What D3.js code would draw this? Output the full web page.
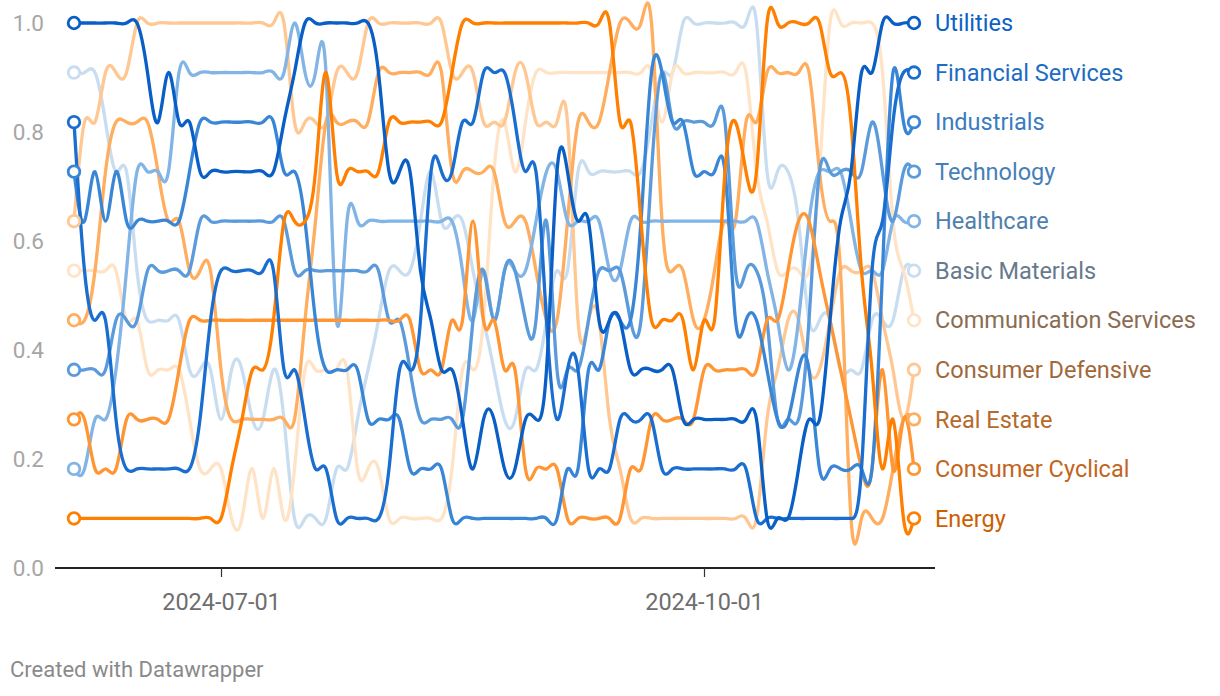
<!DOCTYPE html>
<html><head><meta charset="utf-8">
<script src="https://cdn.jsdelivr.net/npm/d3@7"></script>
<style>
body{margin:0;background:#fff;font-family:Roboto,"Noto Sans",sans-serif;}
</style></head>
<body><svg id="c" width="1220" height="696"></svg>
<script>
// ranks 1..11 (value = rank / 11), one value every 2 days from 2024-06-03
const startDate = "2024-06-03";
const stepDays = 2;
const seriesNames = ["Utilities","Financial Services","Industrials","Technology","Healthcare","Basic Materials","Communication Services","Consumer Defensive","Real Estate","Consumer Cyclical","Energy"];
const utilities = [11,11,11,11,11,11,11,10,9,10, 9,9,8,8,8,8,8,8,8,8, 9,10,11,11,11,11,11,11,11,10, 8,8,8,6,5,4,4,3,2,3, 3,2,2,3,3,4,8,8,7,7, 5,5,5,4,4,4,4,4,3,3, 3,3,3,3,3,3,1,1,1,2, 3,3,5,7,8,10,10,11,11,11, 11];
const financialServices = [9,6,5,5,3,2,2,2,2,2, 2,2,3,5,6,6,6,6,6,6, 4,4,3,2,2,1,1,1,1,1, 2,4,4,5,8,8,8,9,9,10, 10,10,9,8,8,5,3,4,4,2, 2,2,3,3,3,3,2,2,2,2, 2,2,2,2,2,1,1,1,1,1, 1,1,1,1,1,2,6,7,9,10, 10];
const industrials = [8,7,8,7,8,7,7,7,7,7, 7,8,9,9,9,9,9,9,9,9, 8,8,7,5,4,4,4,4,3,3, 3,3,2,2,2,2,1,1,1,1, 1,1,1,1,1,1,1,2,2,4, 4,5,5,5,7,10,10,9,9,8, 8,8,8,5,5,5,4,3,3,4, 4,2,2,2,2,2,2,6,10,9, 9];
const technology = [4,4,4,4,5,5,5,6,6,6, 6,6,7,7,7,7,7,7,7,7, 7,6,6,6,6,6,6,6,6,6, 5,5,4,3,3,3,3,3,5,6, 5,6,6,5,5,7,4,4,4,5, 6,6,6,5,5,8,10,9,9,9, 9,9,9,6,6,6,5,3,3,3, 5,8,8,8,8,8,9,8,7,8, 8];
const healthcare = [2,2,3,3,4,6,8,8,8,8, 10,10,10,10,10,10,10,10,10,10, 10,11,10,10,10,5,7,7,7,7, 7,7,7,7,7,7,7,6,5,6, 5,6,6,6,7,8,8,7,7,7, 7,6,6,7,7,7,7,7,7,7, 7,7,7,7,7,7,6,5,4,5, 7,8,8,8,7,6,6,6,7,7, 7];
const basicMaterials = [10,10,10,9,8,8,6,5,5,5, 5,4,4,4,3,4,4,3,3,4, 3,1,1,1,1,2,2,3,4,5, 6,6,6,7,8,7,7,7,6,5, 4,3,3,4,4,5,6,6,8,8, 8,8,8,8,8,9,10,10,11,11, 11,11,11,11,11,11,8,8,8,7, 5,5,5,4,4,4,5,5,5,6, 6];
const communicationServices = [6,6,6,6,6,5,5,4,4,4, 4,3,2,2,2,1,1,2,1,2, 1,2,4,4,4,4,4,2,2,2, 1,1,1,1,1,1,2,4,4,5, 8,9,8,9,10,10,10,10,10,10, 10,10,10,10,10,10,9,10,10,10, 10,10,10,10,10,8,7,6,6,6, 6,8,11,11,11,11,11,10,7,6, 5];
const consumerDefensive = [7,9,9,10,10,10,11,11,11,11, 11,11,11,11,11,11,11,11,11,11, 11,9,9,9,9,10,10,10,11,11, 11,11,11,11,11,11,10,10,10,9, 9,9,10,10,9,9,9,9,5,5, 5,3,2,1,1,1,1,1,1,1, 1,1,1,1,1,1,3,4,5,5, 4,4,5,6,6,6,6,5,4,3, 4];
const realEstate = [5,5,6,8,9,9,9,9,8,7, 7,6,6,6,4,3,3,3,3,3, 3,3,5,7,9,9,9,9,9,10, 10,10,10,10,10,10,8,8,8,8, 8,7,7,7,6,5,5,7,9,9, 9,10,11,11,11,11,7,6,6,5, 5,6,7,7,9,9,10,10,10,10, 10,8,7,6,1,1,1,1,2,3, 3];
const consumerCyclical = [3,3,2,2,2,3,3,3,3,3, 4,5,5,5,5,5,5,5,5,5, 5,5,5,5,5,5,5,5,5,5, 5,5,5,4,4,4,5,5,7,5, 5,4,4,2,2,2,2,1,1,1, 1,1,1,2,2,3,3,3,3,3, 4,4,4,4,4,4,5,5,6,7, 7,6,5,4,3,2,2,4,2,3, 2];
const energy = [1,1,1,1,1,1,1,1,1,1, 1,1,1,1,1,2,3,4,4,5, 7,7,7,8,10,8,8,8,8,8, 9,9,9,9,9,9,10,11,11,11, 11,11,11,11,11,11,11,11,11,11, 11,11,9,9,7,5,5,5,5,4, 5,5,8,9,8,8,11,11,11,11, 11,11,10,10,9,6,4,2,3,1, 1];
const rankCount = 11;
const yTicks = [0, 0.2, 0.4, 0.6, 0.8, 1.0];
const xTicks = ["2024-07-01", "2024-10-01"];

const seriesValues = [utilities, financialServices, industrials, technology, healthcare, basicMaterials, communicationServices, consumerDefensive, realEstate, consumerCyclical, energy];
const lineColors = ["#0a5fc6","#1a6ecf","#3a86d6","#5b9bdc","#82b4e6","#c9ddf1","#ffe3c6","#ffc893","#ffad5e","#ff9633","#ff7f00"];
const labelColors = ["#0b62c4","#1d6cc4","#3a7cbf","#467fb8","#4f7fad","#677a8d","#8b6c52","#a0693b","#b5692b","#c2651d","#cc6000"];
const drawOrder = [5,6,7,8,4,3,9,2,10,1,0];

const svg = d3.select("#c");
const parse = d3.utcParse("%Y-%m-%d");
const t0 = parse(startDate);
const n = utilities.length;
const dates = d3.range(n).map(i => d3.utcDay.offset(t0, i * stepDays));

const x = d3.scaleUtc().domain([dates[0], dates[n - 1]]).range([74, 914]);
const y = d3.scaleLinear().domain([0, 1]).range([568, 23]);

// y axis labels
const yAxis = svg.append("g").attr("transform", "translate(44,0)")
  .call(d3.axisLeft(y).tickValues(yTicks).tickFormat(d3.format(".1f")).tickSize(0).tickPadding(0));
yAxis.select(".domain").remove();
yAxis.selectAll("text").attr("fill", "#a6a6a6").style("font-size", "22.5px").style("font-family", "Roboto").attr("dy", "0.35em");

// x axis
svg.append("line").attr("x1", 55).attr("x2", 935).attr("y1", 568).attr("y2", 568).attr("stroke", "#222").attr("stroke-width", 2);
const xAxis = svg.append("g").attr("transform", "translate(0,568)")
  .call(d3.axisBottom(x).tickValues(xTicks.map(parse)).tickFormat(d3.utcFormat("%Y-%m-%d")).tickSize(9).tickPadding(16));
xAxis.select(".domain").remove();
xAxis.selectAll("line").attr("stroke", "#333").attr("stroke-width", 1.2);
xAxis.selectAll("text").attr("fill", "#6e6e6e").style("font-size", "23.5px").style("font-family", "Roboto");

const line = d3.line().x((d, i) => x(dates[i])).y(d => y(d / rankCount)).curve(d3.curveNatural);

const g = svg.append("g");
drawOrder.forEach(k => {
  g.append("path").datum(seriesValues[k]).attr("d", line)
    .attr("fill", "none").attr("stroke", lineColors[k]).attr("stroke-width", 3.3)
    .attr("stroke-linejoin", "round").attr("stroke-linecap", "round");
});
drawOrder.forEach(k => {
  const v = seriesValues[k];
  [0, n - 1].forEach(i => {
    g.append("circle").attr("cx", x(dates[i])).attr("cy", y(v[i] / rankCount)).attr("r", 5.8)
      .attr("fill", "#fff").attr("stroke", lineColors[k]).attr("stroke-width", 2.8);
  });
});

seriesNames.forEach((name, k) => {
  const v = seriesValues[k];
  svg.append("text").attr("x", 935).attr("y", y(v[n - 1] / rankCount)).attr("dy", "0.35em")
    .attr("fill", labelColors[k]).style("font-size", "23.5px").style("font-family", "Roboto").text(name);
});

svg.append("text").attr("x", 10).attr("y", 677).attr("fill", "#8a8a8a")
  .style("font-size", "22px").style("font-family", "Roboto").text("Created with Datawrapper");
</script></body></html>
